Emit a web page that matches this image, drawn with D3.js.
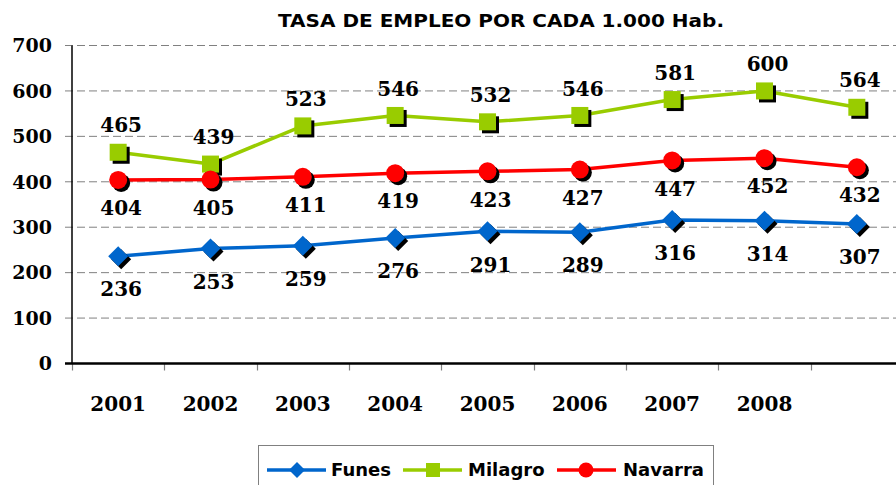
<!DOCTYPE html>
<html>
<head>
<meta charset="utf-8">
<script src="https://cdn.jsdelivr.net/npm/d3@7"></script>
<style>
  html, body { margin: 0; padding: 0; background: #fff; }
  svg { display: block; }
</style>
</head>
<body>
<svg id="chart" width="896" height="485"></svg>
<script>
// Data
const categories = ['c1', 'c2', 'c3', 'c4', 'c5', 'c6', 'c7', 'c8', 'c9'];
const tickLabels = ['2001', '2002', '2003', '2004', '2005', '2006', '2007', '2008', ''];
const funes = [236, 253, 259, 276, 291, 289, 316, 314, 307];
const milagro = [465, 439, 523, 546, 532, 546, 581, 600, 564];
const navarra = [404, 405, 411, 419, 423, 427, 447, 452, 432];
const yTicks = [0, 100, 200, 300, 400, 500, 600, 700];

const series = [
  { name: 'Funes', values: funes, color: '#0066CC', shape: 'diamond', labelDy: 33 },
  { name: 'Milagro', values: milagro, color: '#99CC00', shape: 'square', labelDy: -27 },
  { name: 'Navarra', values: navarra, color: '#FF0000', shape: 'circle', labelDy: 28 }
];

const serifFont = '"DejaVu Serif", serif';
const sansFont = '"DejaVu Sans", sans-serif';

const svg = d3.select('#chart');
const margin = { top: 45.5, left: 72 };
const plotRight = 903;
const plotBottom = 363.5;

const x = d3.scaleBand()
  .domain(categories)
  .range([margin.left, plotRight])
  .padding(0);

const y = d3.scaleLinear()
  .domain([0, 700])
  .range([plotBottom, margin.top]);

// Title
svg.append('text')
  .attr('x', 501)
  .attr('y', 27)
  .attr('text-anchor', 'middle')
  .attr('textLength', 446)
  .attr('lengthAdjust', 'spacingAndGlyphs')
  .style('font-family', sansFont)
  .style('font-weight', 'bold')
  .style('font-size', '18px')
  .text('TASA DE EMPLEO POR CADA 1.000 Hab.');

// Gridlines (dashed) with left tick stubs
svg.append('g')
  .selectAll('line')
  .data(yTicks.filter(d => d > 0))
  .enter().append('line')
  .attr('x1', 65)
  .attr('x2', 896)
  .attr('y1', d => y(d))
  .attr('y2', d => y(d))
  .attr('stroke', '#808080')
  .attr('stroke-width', 1)
  .attr('stroke-dasharray', '8,4');

// Y axis labels
svg.append('g')
  .selectAll('text')
  .data(yTicks)
  .enter().append('text')
  .attr('x', 52)
  .attr('y', d => y(d))
  .attr('dy', '0.36em')
  .attr('text-anchor', 'end')
  .style('font-family', serifFont)
  .style('font-weight', 'bold')
  .style('font-size', '19px')
  .text(d => d);

// X axis ticks (at band edges)
svg.append('g')
  .selectAll('line')
  .data(categories)
  .enter().append('line')
  .attr('x1', d => Math.round(x(d)) + 0.5)
  .attr('x2', d => Math.round(x(d)) + 0.5)
  .attr('y1', plotBottom)
  .attr('y2', plotBottom + 7)
  .attr('stroke', '#808080')
  .attr('stroke-width', 1.2);

// Y axis line
svg.append('line')
  .attr('x1', margin.left).attr('x2', margin.left)
  .attr('y1', margin.top).attr('y2', plotBottom)
  .attr('stroke', '#000').attr('stroke-width', 1.5);

// X axis line
svg.append('line')
  .attr('x1', 65).attr('x2', 896)
  .attr('y1', plotBottom).attr('y2', plotBottom)
  .attr('stroke', '#000').attr('stroke-width', 2.5);

// X labels
svg.append('g')
  .selectAll('text')
  .data(categories)
  .enter().append('text')
  .attr('x', d => x(d) + x.bandwidth() / 2)
  .attr('y', 411)
  .attr('text-anchor', 'middle')
  .style('font-family', serifFont)
  .style('font-weight', 'bold')
  .style('font-size', '20px')
  .text((d, i) => tickLabels[i]);

// Marker drawing helper
function drawMarker(g, shape, cx, cy, fill) {
  if (shape === 'diamond') {
    const r = 10;
    g.append('path')
      .attr('d', `M${cx},${cy - r}L${cx + r},${cy}L${cx},${cy + r}L${cx - r},${cy}Z`)
      .attr('fill', fill);
  } else if (shape === 'square') {
    const s = 17;
    g.append('rect')
      .attr('x', cx - s / 2).attr('y', cy - s / 2)
      .attr('width', s).attr('height', s)
      .attr('fill', fill);
  } else {
    g.append('circle')
      .attr('cx', cx).attr('cy', cy).attr('r', 9)
      .attr('fill', fill);
  }
}

const line = d3.line()
  .x((d, i) => x(categories[i]) + x.bandwidth() / 2)
  .y(d => y(d));

series.forEach(s => {
  const g = svg.append('g');
  g.append('path')
    .datum(s.values)
    .attr('d', line)
    .attr('fill', 'none')
    .attr('stroke', s.color)
    .attr('stroke-width', 3.5)
    .attr('stroke-linejoin', 'round');

  s.values.forEach((v, i) => {
    const cx = x(categories[i]) + x.bandwidth() / 2;
    const cy = y(v);
    drawMarker(g, s.shape, cx + 3, cy + 3, '#000');   // shadow
    drawMarker(g, s.shape, cx, cy, s.color);
  });
});

// Data labels
series.forEach(s => {
  svg.append('g')
    .selectAll('text')
    .data(s.values)
    .enter().append('text')
    .attr('x', (d, i) => x(categories[i]) + x.bandwidth() / 2 + 3)
    .attr('y', d => y(d) + s.labelDy)
    .attr('dy', '0.36em')
    .attr('text-anchor', 'middle')
    .style('font-family', serifFont)
    .style('font-weight', 'bold')
    .style('font-size', '20px')
    .text(d => d);
});

// Legend
const legend = svg.append('g');
legend.append('rect')
  .attr('x', 258.5).attr('y', 445.5)
  .attr('width', 455).attr('height', 60)
  .attr('fill', '#fff')
  .attr('stroke', '#808080')
  .attr('stroke-width', 1);

const legendItems = [
  { s: series[0], x0: 267, tx: 331 },
  { s: series[1], x0: 403, tx: 468 },
  { s: series[2], x0: 557, tx: 623 }
];
const ly = 470;
legendItems.forEach(item => {
  legend.append('line')
    .attr('x1', item.x0).attr('x2', item.x0 + 59)
    .attr('y1', ly).attr('y2', ly)
    .attr('stroke', item.s.color)
    .attr('stroke-width', 3.5);
  const sizeG = legend.append('g');
  if (item.s.shape === 'diamond') {
    const r = 8, cx = item.x0 + 30;
    sizeG.append('path')
      .attr('d', `M${cx},${ly - r}L${cx + r},${ly}L${cx},${ly + r}L${cx - r},${ly}Z`)
      .attr('fill', item.s.color);
  } else if (item.s.shape === 'square') {
    sizeG.append('rect')
      .attr('x', item.x0 + 23).attr('y', ly - 7)
      .attr('width', 14).attr('height', 14)
      .attr('fill', item.s.color);
  } else {
    sizeG.append('circle')
      .attr('cx', item.x0 + 29).attr('cy', ly).attr('r', 7.5)
      .attr('fill', item.s.color);
  }
  legend.append('text')
    .attr('x', item.tx)
    .attr('y', ly)
    .attr('dy', '0.36em')
    .style('font-family', sansFont)
    .style('font-weight', 'bold')
    .style('font-size', '18px')
    .text(item.s.name);
});
</script>
</body>
</html>
